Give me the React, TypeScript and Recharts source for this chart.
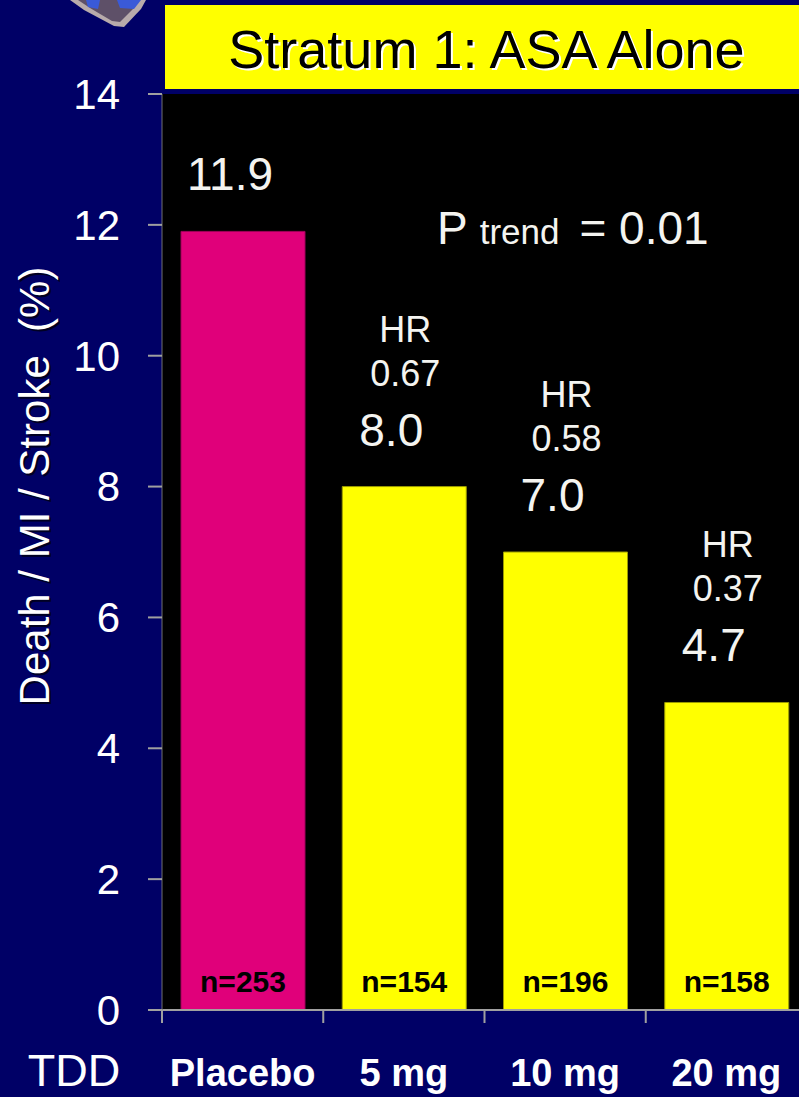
import React from 'react';
import { BarChart, Bar, XAxis, YAxis, CartesianGrid, Cell, LabelList } from 'recharts';

const categories = ['Placebo', '5 mg', '10 mg', '20 mg'];
const rates = [11.9, 8.0, 7.0, 4.7];
const rateLabels = ['11.9', '8.0', '7.0', '4.7'];
const hazardRatios = ['', '0.67', '0.58', '0.37'];
const sampleSizes = ['n=253', 'n=154', 'n=196', 'n=158'];
const yTicks = [0, 2, 4, 6, 8, 10, 12, 14];
const barColors = ['#E0007A', '#FFFF00', '#FFFF00', '#FFFF00'];
const barBorders = ['#A0005A', '#9A9A00', '#9A9A00', '#9A9A00'];

const FONT = '"Liberation Sans", Arial, sans-serif';
const NAVY = '#000066';
const AXIS_GRAY = '#A0A0A0';

const data = categories.map((dose, i) => ({
  dose,
  pos: i + 0.5,
  rate: rates[i],
  label: rateLabels[i],
  hr: hazardRatios[i],
  n: sampleSizes[i],
}));

// boundary ticks on whole numbers, category names on the halves
const edgeTicks = Array.from({ length: categories.length * 2 + 1 }, (_, i) => i / 2);

function EdgeTick(props: any) {
  const { x, y, payload } = props;
  const v = payload.value;
  if (Number.isInteger(v)) {
    return <line x1={x} x2={x} y1={y} y2={y + 13} stroke={AXIS_GRAY} strokeWidth={2} />;
  }
  return (
    <text x={x} y={y + 76} textAnchor="middle" fill="#FFFFFF" fontFamily={FONT} fontSize={38} fontWeight="bold">
      {categories[Math.floor(v)]}
    </text>
  );
}

function ValueLabel(props: any) {
  const { x, y, width, value } = props;
  return (
    <text x={x + width / 2 - 13} y={y - 41} textAnchor="middle" fill="#F4F4F0" fontFamily={FONT} fontSize={46}>
      {value}
    </text>
  );
}

function HrLabel(props: any) {
  const { x, y, width, value } = props;
  if (!value) return null;
  const cx = x + width / 2 + 1;
  return (
    <g fill="#F4F4F0" fontFamily={FONT} fontSize={36} textAnchor="middle">
      <text x={cx} y={y - 145}>HR</text>
      <text x={cx} y={y - 101}>{value}</text>
    </g>
  );
}

function SizeLabel(props: any) {
  const { x, y, width, height, value } = props;
  return (
    <text x={x + width / 2} y={y + height - 18} textAnchor="middle" fill="#000000" fontFamily={FONT} fontSize={30} fontWeight="bold">
      {value}
    </text>
  );
}

function YTitle(props: any) {
  const { viewBox } = props;
  const cx = viewBox.x + 34;
  const cy = 486;
  const text = 'Death / MI / Stroke  (%)';
  return (
    <g fontFamily={FONT} fontSize={42} textAnchor="middle">
      <text x={cx + 2} y={cy + 2} transform={`rotate(-90 ${cx + 2} ${cy + 2})`} dominantBaseline="central" fill="#000022" xmlSpace="preserve">
        {text}
      </text>
      <text x={cx} y={cy} transform={`rotate(-90 ${cx} ${cy})`} dominantBaseline="central" fill="#FFFFFF" xmlSpace="preserve">
        {text}
      </text>
    </g>
  );
}

function XTitle(props: any) {
  const { viewBox } = props;
  return (
    <text x={viewBox.x - 88} y={viewBox.y + 76} textAnchor="middle" fill="#FFFFFF" fontFamily={FONT} fontSize={45}>
      TDD
    </text>
  );
}

export default function App() {
  return (
    <div
      style={{
        position: 'absolute',
        left: 0,
        top: 0,
        width: 799,
        height: 1097,
        overflow: 'hidden',
        background: NAVY,
      }}
    >
      <BarChart width={810} height={1097} data={data} margin={{ top: 94, right: 3, left: 0, bottom: 0 }}>
        <CartesianGrid fill="#000000" horizontal={false} vertical={false} />
        <XAxis
          xAxisId="edge"
          dataKey="pos"
          type="number"
          domain={[0, categories.length]}
          allowDataOverflow
          ticks={edgeTicks}
          interval={0}
          height={87}
          tickSize={0}
          tickMargin={0}
          tickLine={false}
          axisLine={{ stroke: AXIS_GRAY, strokeWidth: 2 }}
          tick={<EdgeTick />}
          label={{ content: <XTitle /> }}
        />
        <XAxis xAxisId="cat" dataKey="dose" hide height={0} />
        <YAxis
          width={162}
          domain={[0, 14]}
          ticks={yTicks}
          interval={0}
          tickSize={14}
          tickMargin={28}
          tickLine={{ stroke: AXIS_GRAY, strokeWidth: 2 }}
          axisLine={{ stroke: '#707070', strokeWidth: 1 }}
          tick={{ fill: '#FFFFFF', fontSize: 42, fontFamily: FONT }}
          label={{ content: <YTitle /> }}
        />
        <Bar dataKey="rate" xAxisId="cat" barSize={124} isAnimationActive={false}>
          {data.map((d, i) => (
            <Cell key={d.dose} fill={barColors[i]} stroke={barBorders[i]} strokeWidth={1} />
          ))}
          <LabelList dataKey="label" content={<ValueLabel />} />
          <LabelList dataKey="hr" content={<HrLabel />} />
          <LabelList dataKey="n" content={<SizeLabel />} />
        </Bar>
      </BarChart>
      <svg
        width={799}
        height={1097}
        style={{ position: 'absolute', left: 0, top: 0, pointerEvents: 'none' }}
      >
        {/* corner of the logo cut off by the top edge */}
        <polygon points="70,0 146,0 141,9 124,27 114,26 84,10" fill="#B8ABAB" />
        <polygon points="78,0 140,0 134,8 120,22 112,21 90,8" fill="#5E5068" />
        <path d="M86,0 L100,0 L98,9 L88,7 Z" fill="#3A5AD8" />
        <path d="M117,0 L141,0 L134,9 L120,8 Z" fill="#3A5AD8" />

        <rect x={165} y={5} width={640} height={84} fill="#FFFF00" />
        <g fontFamily={FONT} fontSize={54} textAnchor="middle">
          <text x={488.5} y={70} fill="#FFFFFF">Stratum 1: ASA Alone</text>
          <text x={486.5} y={68} fill="#000000">Stratum 1: ASA Alone</text>
        </g>

        <text x={437} y={244} fill="#F4F4F0" fontFamily={FONT} fontSize={46}>
          P
          <tspan fontSize={35} dx={12}>trend</tspan>
          <tspan dx={20}>= 0.01</tspan>
        </text>
      </svg>
    </div>
  );
}
